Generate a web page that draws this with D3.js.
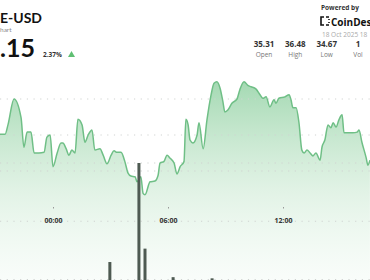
<!DOCTYPE html>
<html>
<head>
<meta charset="utf-8">
<script src="https://cdn.jsdelivr.net/npm/d3@7"></script>
<style>
  body { margin: 0; background: #fff; overflow: hidden; }
  svg { display: block; font-family: "Open Sans", "Noto Sans", sans-serif; }
</style>
</head>
<body>
<div id="container"></div>
<script>
var width = 370,
    height = 280;

// minutes from 18 Oct 2025 00:00 and price at that time
var minutes = [-182, -166, -150, -141, -122, -100, -91, -81, -69, -59, -44, -28, -19, -9, 0, 13, 25, 31, 41, 50, 59, 69, 78, 91, 100, 110, 122, 131, 147, 157, 169, 182, 191, 200, 213, 225, 235, 244, 257, 263, 275, 282, 288, 304, 319, 329, 335, 347, 357, 366, 379, 388, 398, 410, 416, 423, 429, 438, 451, 457, 470, 482, 495, 504, 513, 523, 532, 538, 548, 560, 576, 585, 598, 610, 620, 635, 648, 657, 667, 679, 692, 698, 707, 726, 739, 745, 751, 761, 770, 779, 786, 795, 805, 814, 823, 836, 842, 851, 861, 870, 877, 886, 895, 905, 911, 923, 939, 952, 958, 967, 980, 986, 992];
var prices = [35.51, 35.51, 35.51, 35.64, 36.00, 35.74, 35.33, 35.54, 35.54, 35.25, 35.25, 35.26, 35.47, 35.50, 35.06, 35.25, 35.39, 35.39, 35.31, 35.22, 35.29, 35.25, 35.72, 35.64, 35.40, 35.50, 35.57, 35.29, 35.31, 35.22, 35.10, 35.22, 35.28, 35.26, 35.26, 35.13, 34.97, 34.93, 34.92, 34.85, 34.92, 34.69, 34.67, 34.85, 34.86, 34.94, 35.11, 35.13, 35.22, 35.18, 35.11, 34.96, 35.06, 35.13, 35.72, 35.64, 35.43, 35.39, 35.50, 35.67, 35.31, 35.71, 36.06, 36.22, 36.24, 36.15, 35.96, 35.82, 35.85, 35.94, 36.00, 36.13, 36.24, 36.19, 36.17, 36.14, 36.06, 36.01, 36.03, 35.89, 35.99, 35.94, 36.01, 36.03, 36.06, 35.99, 35.88, 35.88, 35.67, 35.29, 35.25, 35.29, 35.25, 35.21, 35.25, 35.15, 35.33, 35.43, 35.64, 35.60, 35.67, 35.61, 35.71, 35.78, 35.53, 35.53, 35.53, 35.54, 35.57, 35.40, 35.19, 35.08, 35.15];

var volMinutes = [178, 269, 288, 376, 498];
var volumes = [0.3, 2.0, 0.53, 0.04, 0.02];

var priceTicks = [35, 35.5, 36];
var volTicks = [0, 1, 2];

var statValues = ["35.31", "36.48", "34.67", "1"];
var statLabels = ["Open", "High", "Low", "Vol"];

var base = new Date(2025, 9, 18, 0, 0);
function toDate(m) { return new Date(base.getTime() + m * 60000); }

var data = minutes.map(function(m, i) { return { t: toDate(m), v: prices[i] }; });
var vols = volMinutes.map(function(m, i) { return { t: toDate(m), v: volumes[i] }; });

var svg = d3.select('#container').append('svg')
    .attr("width", width)
    .attr("height", height);

var x = d3.scaleTime()
    .domain([toDate(0), toDate(720)])
    .range([53, 283]);

var y = d3.scaleLinear()
    .domain([35, 36])
    .range([171, 99]);

var yVol = d3.scaleLinear()
    .domain([0, 2])
    .range([279.5, 163]);

var defs = svg.append("defs");
var grad = defs.append("linearGradient")
    .attr("id", "areaGrad")
    .attr("gradientUnits", "userSpaceOnUse")
    .attr("x1", 0).attr("x2", 0)
    .attr("y1", 80).attr("y2", 280);
grad.append("stop").attr("offset", "0%").attr("stop-color", "#7cc891").attr("stop-opacity", 0.7);
grad.append("stop").attr("offset", "55%").attr("stop-color", "#a9dbb5").attr("stop-opacity", 0.35);
grad.append("stop").attr("offset", "100%").attr("stop-color", "#d6eedc").attr("stop-opacity", 0.15);

// price area
svg.append("path")
    .datum(data)
    .attr("fill", "url(#areaGrad)")
    .attr("d", d3.area()
      .curve(d3.curveMonotoneX)
      .x(function(d) { return x(d.t); })
      .y0(280)
      .y1(function(d) { return y(d.v); }));

// gridlines (price + volume)
function grid(vals, sc) {
  svg.append("g")
    .selectAll("line")
    .data(vals)
    .enter().append("line")
    .attr("x1", 0).attr("x2", width)
    .attr("y1", function(d) { return sc(d); })
    .attr("y2", function(d) { return sc(d); })
    .attr("stroke", "#d0d3d1")
    .attr("stroke-width", 1)
    .attr("stroke-dasharray", "1.2,5.5");
}
grid(priceTicks, y);
grid(volTicks, yVol);

svg.append("path")
    .datum(data)
    .attr("fill", "none")
    .attr("stroke", "#6fbf86")
    .attr("stroke-width", 1.5)
    .attr("stroke-linejoin", "round")
    .attr("d", d3.line()
      .curve(d3.curveMonotoneX)
      .x(function(d) { return x(d.t); })
      .y(function(d) { return y(d.v); }));

// volume bars
svg.append("g")
    .selectAll("rect")
    .data(vols)
    .enter().append("rect")
    .attr("x", function(d) { return x(d.t) - 1.5; })
    .attr("width", 3)
    .attr("y", function(d) { return yVol(d.v); })
    .attr("height", function(d) { return yVol(0) - yVol(d.v) + 1; })
    .attr("fill", "#4e5a52");

// x axis
var xAxis = d3.axisBottom(x)
    .ticks(d3.timeHour.every(6))
    .tickFormat(d3.timeFormat("%H:%M"))
    .tickSize(1.5)
    .tickPadding(9.5);

var gx = svg.append("g")
    .attr("transform", "translate(0,207)")
    .call(xAxis);
gx.select(".domain").remove();
gx.selectAll(".tick line").attr("stroke", "#999");
gx.selectAll(".tick text")
    .attr("fill", "#333")
    .attr("font-size", 7)
    .attr("font-weight", 700)
    .attr("font-family", "Open Sans, sans-serif");

// header left (widget is cropped at the left edge)
var hdr = svg.append("g").attr("font-family", "Lato, sans-serif");
hdr.append("text").attr("x", 0).attr("y", 22.5)
    .attr("font-size", 14).attr("font-weight", 700).attr("fill", "#111")
    .text("E-USD");
hdr.append("text").attr("x", 0).attr("y", 31.5)
    .attr("font-size", 6.5).attr("fill", "#888")
    .text("hart");
hdr.append("text").attr("x", 0).attr("y", 57)
    .attr("font-size", 25).attr("font-weight", 700).attr("fill", "#111")
    .text(".15");
svg.append("text").attr("x", 43).attr("y", 57)
    .attr("font-size", 6.5).attr("font-weight", 700).attr("fill", "#333")
    .text("2.37%");
svg.append("path")
    .attr("d", "M68,57 L71.5,51 L75,57 Z")
    .attr("fill", "#5fbf73");

// header right (cropped at the right edge)
svg.append("text").attr("x", 321).attr("y", 10)
    .attr("font-size", 6.5).attr("font-weight", 700).attr("fill", "#333")
    .text("Powered by");
var logo = svg.append("g").attr("transform", "translate(321,17)");
logo.append("path")
    .attr("d", "M3,0 H0 V8 H3 M5,0 H8 M5,8 H8 M8,2 V3 M8,5 V6")
    .attr("fill", "none").attr("stroke", "#111").attr("stroke-width", 1.6);
svg.append("text").attr("x", 331).attr("y", 25.5)
    .attr("font-size", 10).attr("font-weight", 700).attr("fill", "#111")
    .text("CoinDes");
svg.append("text").attr("x", 322).attr("y", 37)
    .attr("font-size", 6.5).attr("fill", "#aaa")
    .text("18 Oct 2025 18");

var statX = d3.scalePoint().domain(statLabels).range([264, 358]);
svg.append("g").selectAll("text").data(statValues).enter().append("text")
    .attr("x", function(d, i) { return statX(statLabels[i]); })
    .attr("y", 47)
    .attr("text-anchor", "middle")
    .attr("font-size", 8).attr("font-weight", 700).attr("fill", "#333")
    .text(function(d) { return d; });
svg.append("g").selectAll("text").data(statLabels).enter().append("text")
    .attr("x", function(d) { return statX(d); })
    .attr("y", 57)
    .attr("text-anchor", "middle")
    .attr("font-size", 6.5).attr("fill", "#777")
    .text(function(d) { return d; });
</script>
</body>
</html>
